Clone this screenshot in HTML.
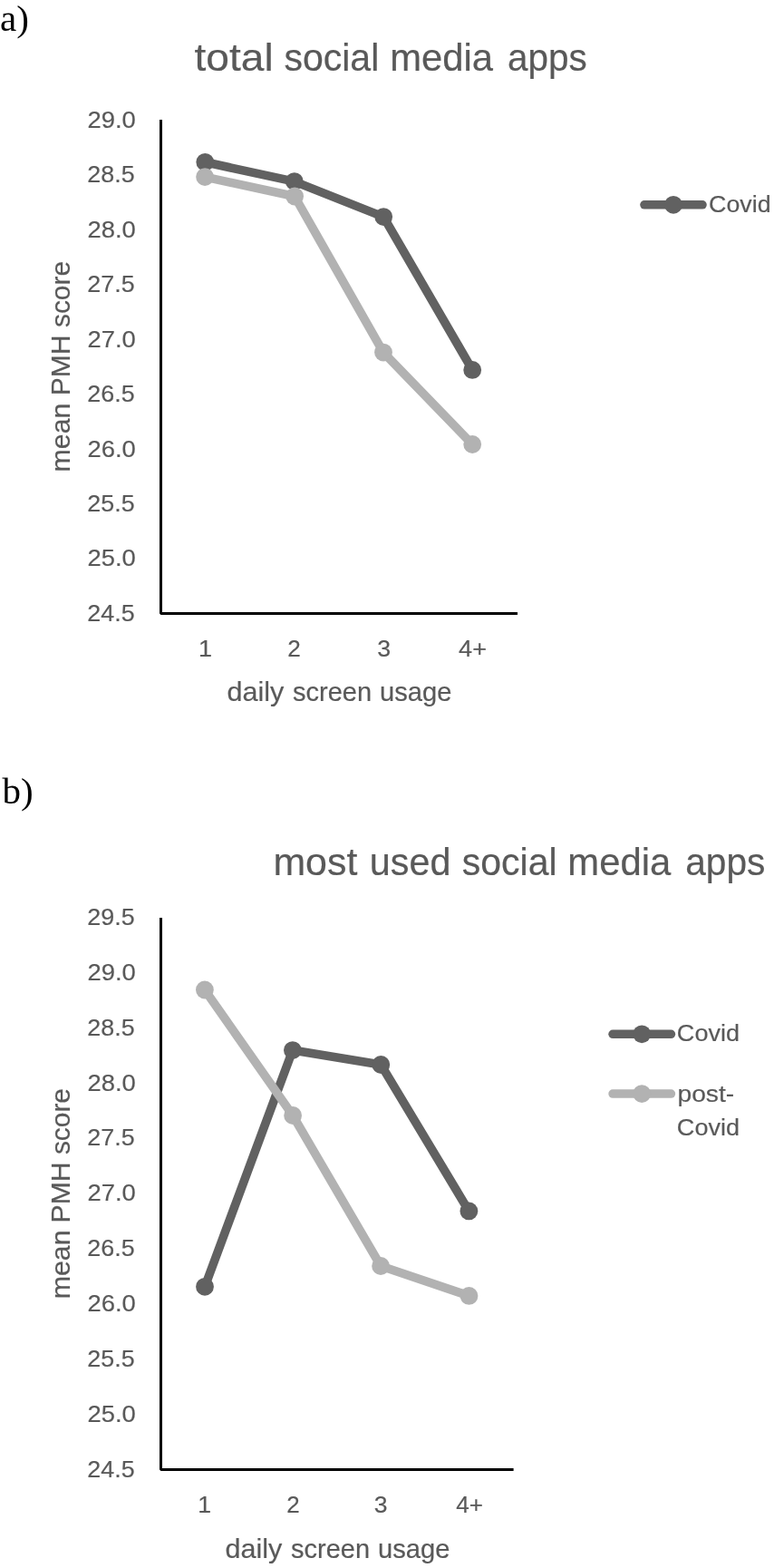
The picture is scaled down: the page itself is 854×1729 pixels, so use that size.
<!DOCTYPE html>
<html lang="en">
<head>
<meta charset="utf-8">
<title>Mean PMH score by daily screen usage</title>
<style>
html,body{margin:0;padding:0;background:#fff;}
svg{display:block;}
.s{font-family:"Liberation Sans", Arial, sans-serif;fill:#595959;}
.r{font-family:"Liberation Serif", "Times New Roman", serif;fill:#000;}
.tk{font-size:26.4px;stroke:#595959;stroke-width:0.2px;}
.ax{font-size:29.6px;stroke:#595959;stroke-width:0.2px;}
.tt{font-size:41.6px;stroke:#595959;stroke-width:0.2px;}
</style>
</head>
<body>
<svg width="854" height="1729" viewBox="0 0 854 1729">
<rect x="0" y="0" width="854" height="1729" fill="#ffffff"/>
<g id="chart-a">
<text class="r" x="0" y="33.9" font-size="41">a)</text>
<text class="s tt" y="77.8"><tspan x="214.46" textLength="87.18" lengthAdjust="spacingAndGlyphs">total</tspan> <tspan x="313.40" textLength="104.89" lengthAdjust="spacingAndGlyphs">social</tspan> <tspan x="430.28" textLength="113.85" lengthAdjust="spacingAndGlyphs">media</tspan> <tspan x="560.06" textLength="87.71" lengthAdjust="spacingAndGlyphs">apps</tspan></text>
<text class="s tk" x="96.44" y="140.9" textLength="53.28" lengthAdjust="spacingAndGlyphs">29.0</text>
<text class="s tk" x="96.37" y="201.3" textLength="52.35" lengthAdjust="spacingAndGlyphs">28.5</text>
<text class="s tk" x="96.44" y="261.8" textLength="53.28" lengthAdjust="spacingAndGlyphs">28.0</text>
<text class="s tk" x="96.37" y="322.2" textLength="52.35" lengthAdjust="spacingAndGlyphs">27.5</text>
<text class="s tk" x="96.44" y="382.6" textLength="53.28" lengthAdjust="spacingAndGlyphs">27.0</text>
<text class="s tk" x="96.37" y="443.0" textLength="52.35" lengthAdjust="spacingAndGlyphs">26.5</text>
<text class="s tk" x="96.44" y="503.5" textLength="53.28" lengthAdjust="spacingAndGlyphs">26.0</text>
<text class="s tk" x="96.37" y="563.9" textLength="52.35" lengthAdjust="spacingAndGlyphs">25.5</text>
<text class="s tk" x="96.44" y="624.3" textLength="53.28" lengthAdjust="spacingAndGlyphs">25.0</text>
<text class="s tk" x="96.37" y="684.8" textLength="52.35" lengthAdjust="spacingAndGlyphs">24.5</text>
<text class="s ax" transform="translate(76.8 0) rotate(-90)"><tspan x="-520.42" y="0" textLength="75.81" lengthAdjust="spacingAndGlyphs">mean</tspan> <tspan x="-436.39" y="0" textLength="66.94" lengthAdjust="spacingAndGlyphs">PMH</tspan> <tspan x="-361.07" y="0" textLength="73.10" lengthAdjust="spacingAndGlyphs">score</tspan></text>
<text class="s tk" x="218.94" y="724.1" textLength="15.04" lengthAdjust="spacingAndGlyphs">1</text>
<text class="s tk" x="317.16" y="724.1" textLength="14.53" lengthAdjust="spacingAndGlyphs">2</text>
<text class="s tk" x="416.17" y="724.1" textLength="14.86" lengthAdjust="spacingAndGlyphs">3</text>
<text class="s tk" x="506.06" y="724.1" textLength="30.93" lengthAdjust="spacingAndGlyphs">4+</text>
<text class="s ax" y="773.3"><tspan x="250.44" textLength="62.82" lengthAdjust="spacingAndGlyphs">daily</tspan> <tspan x="322.90" textLength="87.30" lengthAdjust="spacingAndGlyphs">screen</tspan> <tspan x="419.08" textLength="79.41" lengthAdjust="spacingAndGlyphs">usage</tspan></text>
<polyline points="226.3,178.8 324.8,200.1 423.2,239.1 521.2,407.9" fill="none" stroke="#616161" stroke-width="9.6" stroke-linejoin="round" stroke-linecap="round"/>
<circle cx="226.3" cy="178.8" r="9.9" fill="#616161"/>
<circle cx="324.8" cy="200.1" r="9.9" fill="#616161"/>
<circle cx="423.2" cy="239.1" r="9.9" fill="#616161"/>
<circle cx="521.2" cy="407.9" r="9.9" fill="#616161"/>
<polyline points="226.1,195.1 325.1,216.5 423,388.6 521.2,490" fill="none" stroke="#b2b2b2" stroke-width="9.6" stroke-linejoin="round" stroke-linecap="round"/>
<circle cx="226.1" cy="195.1" r="9.9" fill="#b2b2b2"/>
<circle cx="325.1" cy="216.5" r="9.9" fill="#b2b2b2"/>
<circle cx="423" cy="388.6" r="9.9" fill="#b2b2b2"/>
<circle cx="521.2" cy="490" r="9.9" fill="#b2b2b2"/>
<polyline points="177.5,132 177.5,676.4 571,676.4" fill="none" stroke="#000" stroke-width="3" stroke-linejoin="bevel"/>
<line x1="710.95" y1="225.8" x2="775.05" y2="225.8" stroke="#616161" stroke-width="9.5" stroke-linecap="round"/>
<circle cx="743.0" cy="225.8" r="9.9" fill="#616161"/>
<text class="s tk" x="782.11" y="233.6" textLength="68.48" lengthAdjust="spacingAndGlyphs">Covid</text>
</g>
<g id="chart-b">
<text class="r" x="2.5" y="886.3" font-size="41">b)</text>
<text class="s tt" y="964.5"><tspan x="301.42" textLength="92.89" lengthAdjust="spacingAndGlyphs">most</tspan> <tspan x="407.84" textLength="89.60" lengthAdjust="spacingAndGlyphs">used</tspan> <tspan x="509.73" textLength="104.86" lengthAdjust="spacingAndGlyphs">social</tspan> <tspan x="626.39" textLength="113.91" lengthAdjust="spacingAndGlyphs">media</tspan> <tspan x="756.25" textLength="88.21" lengthAdjust="spacingAndGlyphs">apps</tspan></text>
<text class="s tk" x="96.37" y="1019.8" textLength="52.35" lengthAdjust="spacingAndGlyphs">29.5</text>
<text class="s tk" x="96.44" y="1080.7" textLength="53.28" lengthAdjust="spacingAndGlyphs">29.0</text>
<text class="s tk" x="96.37" y="1141.6" textLength="52.35" lengthAdjust="spacingAndGlyphs">28.5</text>
<text class="s tk" x="96.44" y="1202.5" textLength="53.28" lengthAdjust="spacingAndGlyphs">28.0</text>
<text class="s tk" x="96.37" y="1263.4" textLength="52.35" lengthAdjust="spacingAndGlyphs">27.5</text>
<text class="s tk" x="96.44" y="1324.3" textLength="53.28" lengthAdjust="spacingAndGlyphs">27.0</text>
<text class="s tk" x="96.37" y="1385.2" textLength="52.35" lengthAdjust="spacingAndGlyphs">26.5</text>
<text class="s tk" x="96.44" y="1446.1" textLength="53.28" lengthAdjust="spacingAndGlyphs">26.0</text>
<text class="s tk" x="96.37" y="1507.0" textLength="52.35" lengthAdjust="spacingAndGlyphs">25.5</text>
<text class="s tk" x="96.44" y="1567.9" textLength="53.28" lengthAdjust="spacingAndGlyphs">25.0</text>
<text class="s tk" x="96.37" y="1628.8" textLength="52.35" lengthAdjust="spacingAndGlyphs">24.5</text>
<text class="s ax" transform="translate(76.8 0) rotate(-90)"><tspan x="-1432.30" y="0" textLength="75.94" lengthAdjust="spacingAndGlyphs">mean</tspan> <tspan x="-1348.44" y="0" textLength="67.02" lengthAdjust="spacingAndGlyphs">PMH</tspan> <tspan x="-1273.14" y="0" textLength="73.14" lengthAdjust="spacingAndGlyphs">score</tspan></text>
<text class="s tk" x="218.36" y="1668.0" textLength="14.83" lengthAdjust="spacingAndGlyphs">1</text>
<text class="s tk" x="316.37" y="1668.0" textLength="14.42" lengthAdjust="spacingAndGlyphs">2</text>
<text class="s tk" x="412.89" y="1668.0" textLength="14.79" lengthAdjust="spacingAndGlyphs">3</text>
<text class="s tk" x="503.35" y="1668.0" textLength="29.73" lengthAdjust="spacingAndGlyphs">4+</text>
<text class="s ax" y="1718.4"><tspan x="248.44" textLength="62.82" lengthAdjust="spacingAndGlyphs">daily</tspan> <tspan x="320.96" textLength="87.11" lengthAdjust="spacingAndGlyphs">screen</tspan> <tspan x="417.01" textLength="79.40" lengthAdjust="spacingAndGlyphs">usage</tspan></text>
<polyline points="226,1418.8 322.9,1158.1 420.3,1174 517.4,1335.4" fill="none" stroke="#616161" stroke-width="9.6" stroke-linejoin="round" stroke-linecap="round"/>
<circle cx="226" cy="1418.8" r="9.9" fill="#616161"/>
<circle cx="322.9" cy="1158.1" r="9.9" fill="#616161"/>
<circle cx="420.3" cy="1174" r="9.9" fill="#616161"/>
<circle cx="517.4" cy="1335.4" r="9.9" fill="#616161"/>
<polyline points="225.9,1091.5 323.1,1230 420.1,1396 517.5,1428.9" fill="none" stroke="#b2b2b2" stroke-width="9.6" stroke-linejoin="round" stroke-linecap="round"/>
<circle cx="225.9" cy="1091.5" r="9.9" fill="#b2b2b2"/>
<circle cx="323.1" cy="1230" r="9.9" fill="#b2b2b2"/>
<circle cx="420.1" cy="1396" r="9.9" fill="#b2b2b2"/>
<circle cx="517.5" cy="1428.9" r="9.9" fill="#b2b2b2"/>
<polyline points="177.5,1012 177.5,1620.4 566.6,1620.4" fill="none" stroke="#000" stroke-width="3" stroke-linejoin="bevel"/>
<line x1="676.05" y1="1140.3" x2="740.45" y2="1140.3" stroke="#616161" stroke-width="9.5" stroke-linecap="round"/>
<circle cx="708.2" cy="1140.3" r="9.9" fill="#616161"/>
<line x1="676.05" y1="1206.1" x2="740.45" y2="1206.1" stroke="#b2b2b2" stroke-width="9.5" stroke-linecap="round"/>
<circle cx="708.2" cy="1206.1" r="9.9" fill="#b2b2b2"/>
<text class="s tk" x="746.86" y="1148.4" textLength="69.18" lengthAdjust="spacingAndGlyphs">Covid</text>
<text class="s tk" x="747.49" y="1214.5" textLength="62.69" lengthAdjust="spacingAndGlyphs">post-</text>
<text class="s tk" x="746.86" y="1251.7" textLength="69.18" lengthAdjust="spacingAndGlyphs">Covid</text>
</g>
</svg>
</body>
</html>
